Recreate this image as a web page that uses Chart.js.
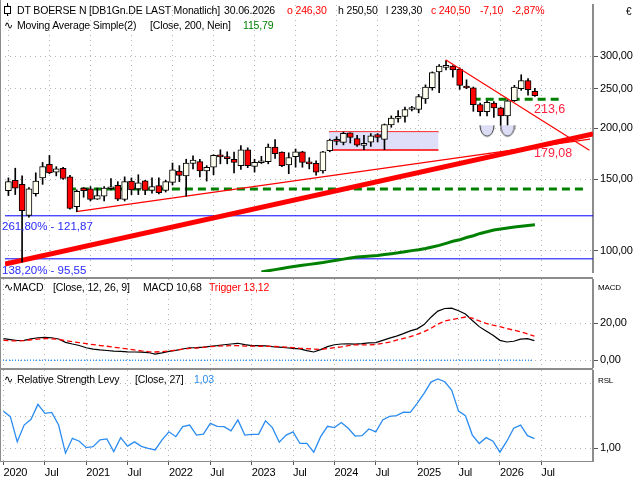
<!DOCTYPE html>
<html>
<head>
<meta charset="utf-8">
<script src="https://cdn.jsdelivr.net/npm/chart.js@4.4.0/dist/chart.umd.min.js"></script>
<style>
body { margin: 0; background: #fff; }
#wrap { position: relative; width: 640px; height: 480px; overflow: hidden; font-family: "Liberation Sans", Arial, sans-serif; font-size: 10.5px; letter-spacing: -0.15px; color: #000; }
canvas { position: absolute; left: 0; }
.t { position: absolute; white-space: nowrap; line-height: 12px; }
.line { position: absolute; background: #8c8c8c; }
.red { color: #ff0000; }
</style>
</head>
<body>
<div id="wrap">
  <canvas id="price" width="640" height="277" style="top:0"></canvas>
  <canvas id="macd" width="640" height="89" style="top:279px"></canvas>
  <canvas id="rsl" width="640" height="110" style="top:370px"></canvas>

  <div class="line" style="left:0;top:277px;width:593px;height:2px"></div>
  <div class="line" style="left:0;top:368px;width:593px;height:2px"></div>
  <div class="line" style="left:0;top:0;width:1px;height:462px"></div>

  <div style="position:absolute;left:7px;top:3px;width:1px;height:13px;background:#000"></div>
  <div style="position:absolute;left:4px;top:6px;width:5px;height:6px;border:1px solid #000;background:#fff"></div>
  <div class="t" style="left:17px;top:4px">DT BOERSE N [DB1Gn.DE LAST Monatlich]</div>
  <div class="t" style="left:224px;top:4px">30.06.2026</div>
  <div class="t red" style="left:287px;top:4px">o 246,30</div>
  <div class="t" style="left:338px;top:4px">h 250,50</div>
  <div class="t" style="left:386px;top:4px">l 239,30</div>
  <div class="t red" style="left:431px;top:4px">c 240,50</div>
  <div class="t red" style="left:480px;top:4px">-7,10</div>
  <div class="t red" style="left:512px;top:4px">-2,87%</div>
  <div class="t" style="left:626px;top:6px;font-size:10px">€</div>

  <div class="t" style="left:4px;top:19px">∿</div>
  <div class="t" style="left:17px;top:19px">Moving Average Simple(2)</div>
  <div class="t" style="left:150px;top:19px">[Close, 200, Nein]</div>
  <div class="t" style="left:243px;top:19px;color:#008000">115,79</div>

  <div class="t" style="left:2px;top:220px;color:#2b2bff;font-size:11.5px;letter-spacing:0">261,80% - 121,87</div>
  <div class="t" style="left:2px;top:264px;color:#2b2bff;font-size:11.5px;letter-spacing:0">138,20% - 95,55</div>
  <div class="t" style="left:534px;top:103px;color:#ff2040;font-size:12.5px;letter-spacing:0">213,6</div>
  <div class="t" style="left:534px;top:147px;color:#ff2040;font-size:12.5px;letter-spacing:0">179,08</div>

  <div class="t" style="left:4px;top:281px">∿</div>
  <div class="t" style="left:13px;top:281px">MACD</div>
  <div class="t" style="left:53px;top:281px">[Close, 12, 26, 9]</div>
  <div class="t" style="left:143px;top:281px">MACD 10,68</div>
  <div class="t red" style="left:209px;top:281px">Trigger 13,12</div>
  <div class="t" style="left:598px;top:282px;font-size:8px">MACD</div>

  <div class="t" style="left:4px;top:373px">∿</div>
  <div class="t" style="left:17px;top:373px">Relative Strength Levy</div>
  <div class="t" style="left:135px;top:373px">[Close, 27]</div>
  <div class="t" style="left:194px;top:373px;color:#2a8cf0">1,03</div>
  <div class="t" style="left:598px;top:375px;font-size:8px">RSL</div>
</div>

<script>
// monthly candles, Jan 2020 .. Jun 2026 (index 0..77)
const open = [140.4, 149, 145.6, 122.1, 138.1, 151, 163, 156, 159.5, 151.9, 128.3, 142.5,
  141.9, 133.9, 136.2, 142, 144.8, 133.7, 148.3, 141.9, 148.6, 140.7, 144.6, 140.7,
  147.2, 157, 152.7, 163.9, 165.7, 157, 160.4, 171.2, 169, 167.8, 161.7, 177,
  161.1, 164.5, 165.5, 179.8, 174.7, 162.6, 170.3, 175, 164.3, 163.9, 157, 176.2,
  187.7, 184.5, 194.9, 188.6, 181.4, 184.8, 193, 187.8, 203.8, 211.2, 213.6, 222.3,
  222.3, 236.1, 251.4, 275, 282, 284.1, 279.5, 252, 251.4, 228.5, 219.5, 230.5,
  224.3, 214.4, 233.5, 250, 261.8, 246.3];
const high = [151, 159.5, 152.7, 143, 155.4, 164.8, 171.5, 160.9, 160.4, 153.1, 141.1, 143,
  143.8, 142.5, 143.8, 150.5, 147.8, 151.9, 151, 153.7, 149, 151, 151, 149,
  164.2, 161.8, 167.8, 171, 167.8, 161.8, 172.2, 177, 175, 174.8, 181.3, 179,
  167.8, 170.6, 182.9, 187.5, 175, 174, 177.8, 175.5, 169.3, 166.2, 175.5, 188,
  190.5, 195.8, 194.9, 192.1, 192.1, 194, 194, 204.8, 214.4, 221, 225.3, 226.3,
  242.1, 255.5, 275, 286.6, 293, 285, 281.4, 262.9, 252.4, 230.5, 233.5, 232.6,
  225.2, 234.8, 254.8, 270.5, 264.9, 250.5];
const low = [136.6, 137.4, 93.8, 121, 136.2, 145.6, 154.6, 152.7, 149.7, 126.6, 124.8, 135.4,
  132.5, 133.7, 132.5, 141.1, 132.8, 132.5, 137.4, 137.4, 137.4, 138.6, 137.9, 139.4,
  145.1, 147.8, 136.2, 158.8, 151.9, 148.3, 153.7, 163.5, 163.5, 155.4, 158.3, 160,
  156, 163.8, 163.5, 168.5, 161, 154.6, 160.4, 160.4, 158.9, 153.3, 155, 175,
  182, 182, 183.9, 180.4, 177, 180.4, 185, 177.1, 201, 207, 206.9, 220.5,
  218, 230, 248, 244.6, 278, 267, 249, 250, 220, 214.4, 214.4, 212.4,
  203, 203, 232.6, 247.7, 241, 239.3];
const close = [147.8, 142.5, 125.5, 141.9, 148.3, 160.9, 155.4, 158.9, 150.5, 127.1, 139.9, 140.4,
  133.7, 136.6, 142.5, 142.8, 133.9, 147.8, 141.1, 146.9, 140.7, 143.8, 138.9, 147.8,
  158.1, 153.2, 164.2, 166.9, 157, 160.4, 171.5, 170, 168.4, 164.8, 177, 161.7,
  164.8, 165.5, 179.8, 173.1, 161.7, 169.3, 175, 164.8, 163.5, 156, 175, 187,
  185.6, 194.4, 189.8, 181.6, 183.7, 191.5, 189.8, 204.1, 211.7, 214, 222.3, 223,
  239, 252.4, 273.9, 284.1, 284, 278, 254.8, 251, 228.5, 219.5, 231.4, 224.3,
  214.4, 233.5, 252.4, 261.8, 248.7, 240.5];

// 200 moving average, from Feb 2023 (index 37)
const maStart = 37;
const ma200 = [88.7, 89.3, 89.9, 90.5, 91.1, 91.6, 92.1, 92.6, 93.1, 93.6, 94.2,
  94.8, 95.4, 96.0, 96.5, 96.8, 97.1, 97.4, 97.9, 98.4, 98.9, 99.5, 100.1,
  100.6, 101.3, 102.2, 103.1, 104.3, 105.5, 106.4, 107.8, 108.9, 110.3, 111.4, 112.5,
  113.1, 113.8, 114.4, 114.9, 115.4, 115.8];

const macdLine = [11.7, 11.2, 10.7, 10.8, 11.6, 12.2, 12.4, 12.2, 11.5, 9.7, 8.8, 8.0,
  6.8, 6.0, 5.6, 5.3, 5.0, 4.8, 4.6, 4.5, 4.4, 4.2, 3.3, 4.0,
  4.8, 5.4, 6.1, 6.8, 6.9, 7.1, 7.5, 7.9, 8.4, 8.8, 9.2, 8.5,
  7.9, 7.9, 7.8, 7.4, 7.1, 6.8, 6.5, 6.2, 5.2, 4.5, 5.8, 7.4,
  8.4, 8.8, 8.9, 8.8, 9.0, 9.4, 9.6, 10.8, 12.0, 13.1, 14.4, 15.9,
  17.0, 19.3, 23.3, 26.6, 28.0, 28.2, 26.8, 25.0, 21.5, 18.2, 15.8, 13.5,
  10.8, 9.9, 10.3, 11.4, 11.7, 10.68];
const triggerLine = [10.8, 10.5, 10.5, 10.6, 11.1, 11.5, 11.8, 11.6, 11.3, 10.7, 10.1, 9.5,
  9.0, 8.5, 8.0, 7.6, 7.1, 6.6, 6.2, 5.6, 5.1, 4.7, 4.5, 4.7,
  5.0, 5.5, 6.0, 6.4, 6.6, 7.0, 7.4, 7.6, 7.8, 7.9, 7.9, 7.7,
  7.7, 7.6, 7.6, 7.5, 7.4, 7.1, 6.8, 6.5, 6.3, 6.0, 5.9, 6.3,
  6.8, 7.3, 7.9, 8.3, 8.3, 8.3, 8.6, 9.1, 9.8, 10.9, 11.8, 12.8,
  14.0, 15.5, 17.3, 19.6, 21.2, 22.0, 22.7, 23.4, 22.8, 21.3, 20.0, 19.0,
  18.2, 17.2, 16.3, 15.4, 14.3, 13.12];
const rslLine = [1.115, 1.098, 1.020, 1.072, 1.090, 1.136, 1.108, 1.111, 1.072, 0.985, 1.031, 1.022,
  1.002, 1.005, 1.026, 1.029, 0.990, 1.033, 1.007, 1.020, 1.006, 1.000, 0.995, 1.026,
  1.051, 1.036, 1.067, 1.072, 1.041, 1.044, 1.077, 1.068, 1.067, 1.054, 1.088, 1.041,
  1.043, 1.043, 1.085, 1.064, 1.019, 1.041, 1.051, 1.015, 1.015, 0.988, 1.036, 1.068,
  1.064, 1.080, 1.062, 1.038, 1.039, 1.060, 1.051, 1.088, 1.099, 1.101, 1.112, 1.111,
  1.139, 1.170, 1.205, 1.215, 1.206, 1.180, 1.115, 1.101, 1.041, 1.015, 1.033, 1.022,
  0.988, 1.022, 1.062, 1.072, 1.039, 1.03];

const tickLabels = ['2020', 'Jul', '2021', 'Jul', '2022', 'Jul', '2023', 'Jul', '2024', 'Jul', '2025', 'Jul', '2026', 'Jul'];
const priceTicks = [100, 150, 200, 250, 300];
const macdTicks = [0, 20];
const rslTicks = [1.0, 1.1, 1.2];

// drawn lines: [index, value] end points
const fibHigh = [[-0.5, 121.87], [85.5, 121.87]];
const fibLow = [[-0.5, 95.55], [85.5, 95.55]];
const supportLow = [[8.7, 141.9], [84.45, 141.9]];
const neckLine = [[67.9, 235.5], [81.0, 235.5]];
const trendThick = [[-0.5, 92.8], [85.5, 193.7]];
const trendThin = [[9.9, 124.8], [85.07, 188.1]];
const trendDown = [[63.94, 294.5], [84.97, 176.5]];
const boxTop = [[46.9, 195.8], [62.9, 195.8]];
const boxBottom = [[46.9, 176.8], [62.9, 176.8]];
const bowls = [[70, 196.5], [73, 196.5]];
const macdZero = [[-0.5, 0], [76.8, 0]];

Chart.defaults.font.family = '"Liberation Sans", Arial, sans-serif';
Chart.defaults.font.size = 11;
Chart.defaults.color = '#000';
Chart.defaults.animation = false;
Chart.defaults.events = [];
Chart.defaults.plugins.legend.display = false;
Chart.defaults.plugins.tooltip.enabled = false;

const pts = arr => arr.map(p => ({ x: p[0], y: p[1] }));
const series = (arr, start) => arr.map((v, i) => ({ x: i + (start || 0), y: v }));
const noPad = s => { s.paddingTop = 0; s.paddingBottom = 0; s.paddingLeft = 0; s.paddingRight = 0; };

function xScale(showLabels) {
  return {
    type: 'linear', min: -0.5, max: 85.5, offset: false,
    afterBuildTicks: s => { s.ticks = tickLabels.map((t, k) => ({ value: k * 6 })); },
    afterFit: s => { s.height = showLabels ? 19 : 0; noPad(s); },
    grid: { color: '#b4b4b4', offset: false, drawTicks: showLabels, tickLength: 4, tickColor: '#555', tickBorderDash: [1, 0] },
    border: { display: showLabels, color: '#8c8c8c', width: 1, dash: [1, 4] },
    ticks: { display: showLabels, align: 'start', padding: 1, maxRotation: 0, autoSkip: false,
      callback: (v, k) => tickLabels[k] }
  };
}

function yScale(tickValues, extra) {
  return Object.assign({
    position: 'right',
    afterBuildTicks: s => { s.ticks = tickValues.map(v => ({ value: v })); },
    afterFit: s => { s.width = 47; noPad(s); },
    grid: { color: '#b4b4b4', tickLength: 5, tickColor: '#555', tickBorderDash: [1, 0] },
    border: { display: true, color: '#8c8c8c', width: 2, dash: [1, 4] },
    ticks: { padding: 2, callback: v => v.toFixed(2).replace('.', ',') }
  }, extra);
}

function bowlImage() {
  const c = document.createElement('canvas');
  c.width = 16; c.height = 14;
  const g = c.getContext('2d');
  g.beginPath();
  g.ellipse(8, 1, 7, 11, 0, 0, Math.PI);
  g.closePath();
  g.fillStyle = '#dcdcf4';
  g.fill();
  g.beginPath();
  g.ellipse(8, 1, 7, 11, 0, 0, Math.PI);
  g.strokeStyle = '#333';
  g.lineWidth = 1;
  g.stroke();
  return c;
}

const idx = close.map((c, i) => i);
const upIdx = idx.filter(i => close[i] >= open[i]);
const downIdx = idx.filter(i => close[i] < open[i]);

const lineDs = (data, color, width, extra) => Object.assign({
  type: 'line', data: data, borderColor: color, borderWidth: width,
  pointRadius: 0, fill: false, tension: 0
}, extra);

new Chart(document.getElementById('price'), {
  type: 'bar',
  data: {
    datasets: [
      lineDs(pts(boxTop), '#ff0000', 1.5, { order: 12 }),
      lineDs(pts(boxBottom), '#ff0000', 1.5, { order: 11, fill: '-1', backgroundColor: 'rgba(220,220,248,0.9)' }),
      lineDs(pts(fibHigh), '#0000ff', 1, { order: 10 }),
      lineDs(pts(fibLow), '#0000ff', 1, { order: 10 }),
      lineDs(series(ma200, maStart), '#008000', 3, { order: 9 }),
      lineDs(pts(supportLow), '#008000', 3, { order: 8, borderDash: [8, 5] }),
      lineDs(pts(neckLine), '#008000', 3, { order: 8, borderDash: [8, 5] }),
      lineDs(pts(trendThick), '#ff0000', 5, { order: 7 }),
      lineDs(pts(trendThin), '#ff0000', 1.3, { order: 7 }),
      {
        type: 'bar', order: 5, grouped: false,
        data: idx.map(i => ({ x: i, y: [low[i], high[i]] })),
        backgroundColor: '#000', borderWidth: 0,
        categoryPercentage: 1, barPercentage: 1, maxBarThickness: 1
      },
      {
        type: 'bar', order: 4, grouped: false,
        data: upIdx.map(i => ({ x: i, y: [open[i], close[i]] })),
        backgroundColor: '#fffff0', borderColor: '#000', borderWidth: 1, borderSkipped: false,
        categoryPercentage: 1, barPercentage: 1, maxBarThickness: 6, minBarLength: 2
      },
      {
        type: 'bar', order: 4, grouped: false,
        data: downIdx.map(i => ({ x: i, y: [close[i], open[i]] })),
        backgroundColor: '#ff0000', borderColor: '#000', borderWidth: 1, borderSkipped: false,
        categoryPercentage: 1, barPercentage: 1, maxBarThickness: 6, minBarLength: 2
      },
      lineDs(pts(trendDown), '#ff0000', 1.2, { order: 2 }),
      lineDs(pts(bowls), 'transparent', 0, { order: 1, showLine: false, pointRadius: 5, pointStyle: bowlImage() })
    ]
  },
  options: {
    responsive: false,
    layout: { padding: 0 },
    scales: {
      x: xScale(false),
      y: yScale(priceTicks, { type: 'logarithmic', min: 88.7, max: 401.3 })
    }
  }
});

new Chart(document.getElementById('macd'), {
  type: 'line',
  data: {
    datasets: [
      lineDs(pts(macdZero), '#3399ff', 1.5, { borderDash: [1, 2] }),
      lineDs(series(triggerLine), '#ff0000', 1.3, { borderDash: [5, 3] }),
      lineDs(series(macdLine), '#000', 1.2)
    ]
  },
  options: {
    responsive: false,
    layout: { padding: 0 },
    scales: {
      x: xScale(false),
      y: yScale(macdTicks, { type: 'linear', min: -4.16, max: 43.95 })
    }
  }
});

new Chart(document.getElementById('rsl'), {
  type: 'line',
  data: {
    datasets: [
      lineDs(series(rslLine), '#2a8cf0', 1.3)
    ]
  },
  options: {
    responsive: false,
    layout: { padding: 0 },
    scales: {
      x: xScale(true),
      y: yScale(rslTicks, {
        type: 'linear', min: 0.9607, max: 1.2424,
        grid: { color: '#b4b4b4', tickLength: 5, tickBorderDash: [1, 0],
          tickColor: c => (Math.abs(c.tick.value - 1) < 1e-6 ? '#555' : 'transparent') },
        ticks: { padding: 2, callback: v => (Math.abs(v - 1) < 1e-6 ? '1,00' : '') }
      })
    }
  }
});
</script>
</body>
</html>
